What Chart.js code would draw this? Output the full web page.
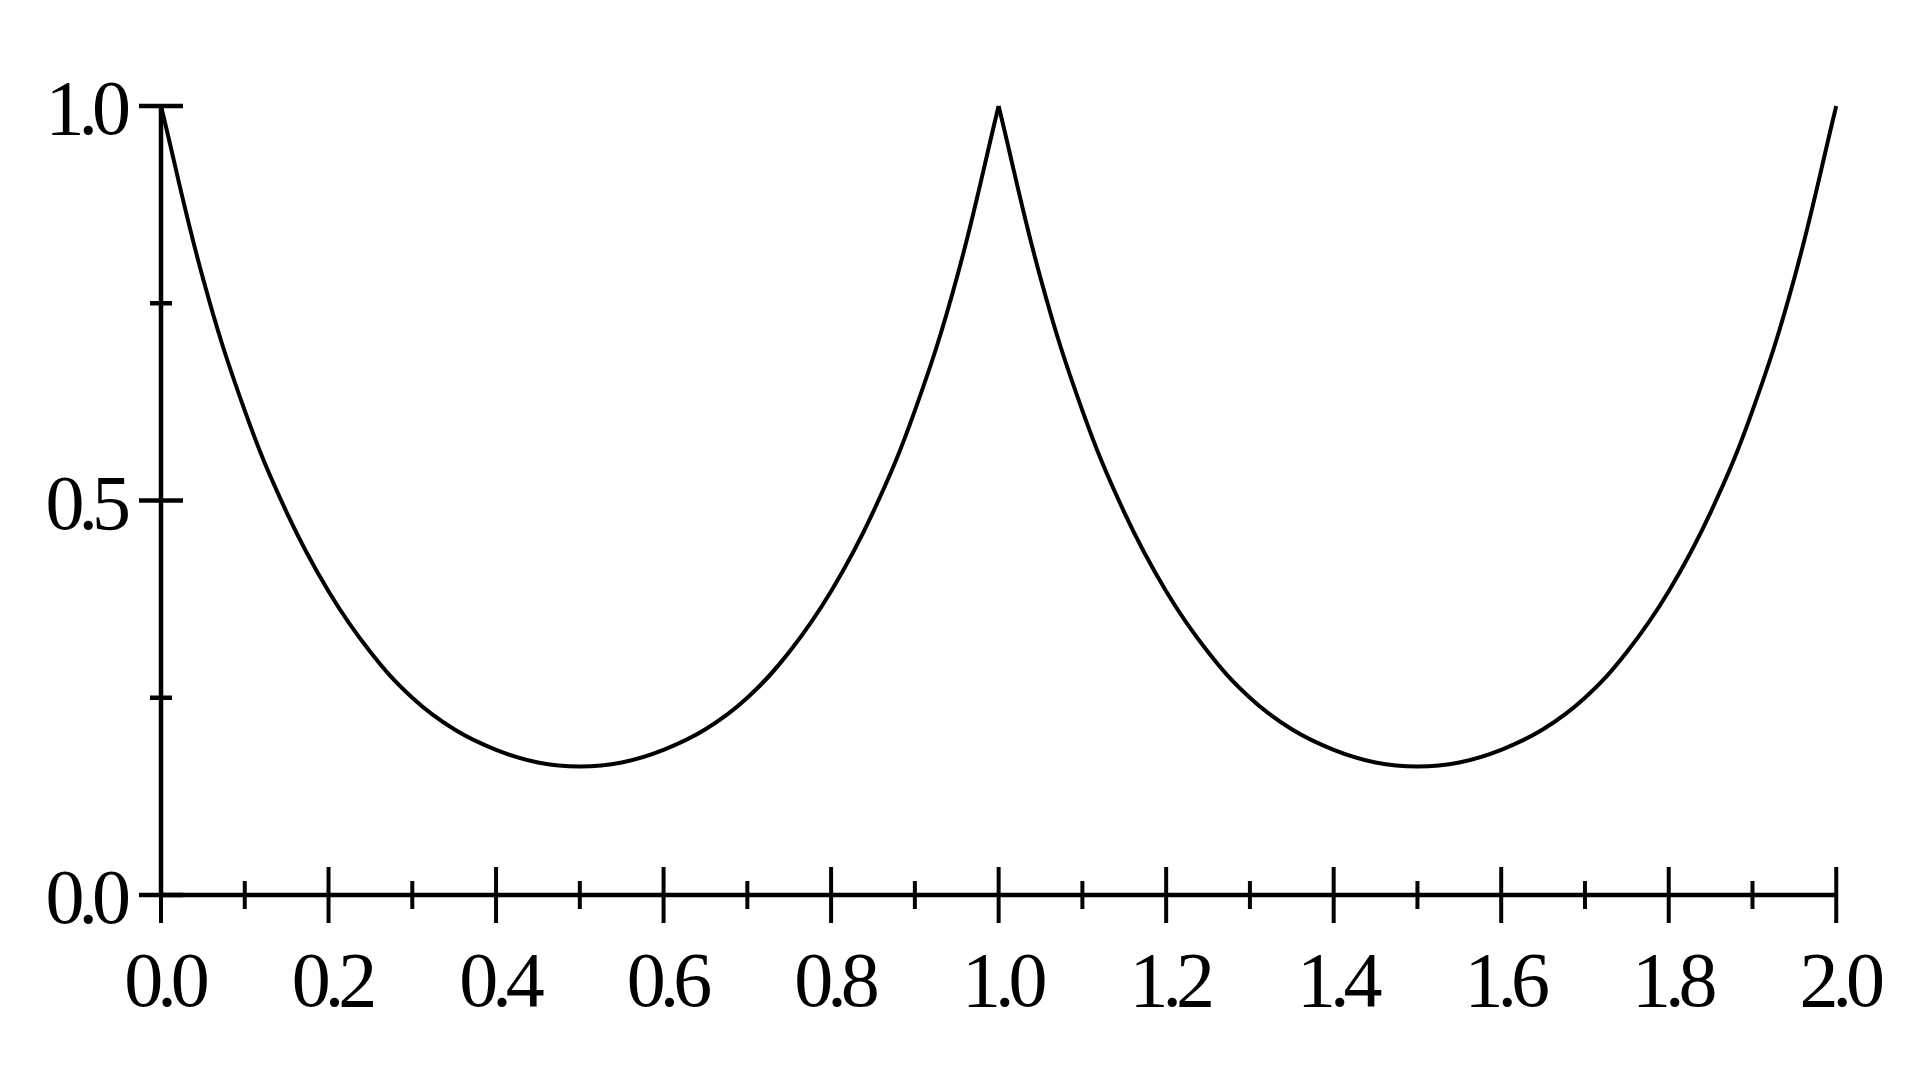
<!DOCTYPE html>
<html>
<head>
<meta charset="utf-8">
<script src="https://cdn.jsdelivr.net/npm/chart.js@4/dist/chart.umd.min.js"></script>
<style>
  html, body { margin: 0; padding: 0; background: #ffffff; }
  #wrap { width: 1920px; height: 1080px; }
</style>
</head>
<body>
<div id="wrap"><canvas id="c" width="1920" height="1080"></canvas></div>
<script>
// ---- data ----
const arch1X = [0.00, 0.05, 0.10, 0.15, 0.20, 0.25, 0.30, 0.35, 0.40, 0.45, 0.50,
                0.55, 0.60, 0.65, 0.70, 0.75, 0.80, 0.85, 0.90, 0.95, 1.00];
const arch1Y = [1.000, 0.782, 0.614, 0.485, 0.385, 0.308, 0.250, 0.210, 0.184, 0.168, 0.163,
                0.168, 0.184, 0.210, 0.250, 0.308, 0.385, 0.485, 0.614, 0.782, 1.000];
const arch2X = [1.00, 1.05, 1.10, 1.15, 1.20, 1.25, 1.30, 1.35, 1.40, 1.45, 1.50,
                1.55, 1.60, 1.65, 1.70, 1.75, 1.80, 1.85, 1.90, 1.95, 2.00];
const arch2Y = [1.000, 0.782, 0.614, 0.485, 0.385, 0.308, 0.250, 0.210, 0.184, 0.168, 0.163,
                0.168, 0.184, 0.210, 0.250, 0.308, 0.385, 0.485, 0.614, 0.782, 1.000];

const xMajorTicks = [0.0, 0.2, 0.4, 0.6, 0.8, 1.0, 1.2, 1.4, 1.6, 1.8, 2.0];
const xMajorLabels = ['0.0', '0.2', '0.4', '0.6', '0.8', '1.0', '1.2', '1.4', '1.6', '1.8', '2.0'];
const xMinorTicks = [0.1, 0.3, 0.5, 0.7, 0.9, 1.1, 1.3, 1.5, 1.7, 1.9];
const yMajorTicks = [0.0, 0.5, 1.0];
const yMajorLabels = ['0.0', '0.5', '1.0'];
const yMinorTicks = [0.25, 0.75];

// ---- helpers ----
const toPoints = (xs, ys) => xs.map((x, i) => ({ x: x, y: ys[i] }));

const SPACING = '-6px';
const letterSpacingPlugin = {
  id: 'letterSpacing',
  beforeUpdate(chart) { chart.ctx.letterSpacing = SPACING; },
  beforeLayout(chart) { chart.ctx.letterSpacing = SPACING; },
  beforeDraw(chart) { chart.ctx.letterSpacing = SPACING; }
};

const axesPlugin = {
  id: 'axesPlugin',
  afterDraw(chart) {
    const ctx = chart.ctx;
    const xs = chart.scales.x, ys = chart.scales.y;
    const x0 = xs.getPixelForValue(xs.min), x2 = xs.getPixelForValue(xs.max);
    const y0 = ys.getPixelForValue(ys.min), y1 = ys.getPixelForValue(ys.max);
    ctx.save();
    ctx.strokeStyle = '#000';
    ctx.lineCap = 'butt';
    const seg = (ax, ay, bx, by, w) => {
      ctx.lineWidth = w; ctx.beginPath(); ctx.moveTo(ax, ay); ctx.lineTo(bx, by); ctx.stroke();
    };
    seg(x0, y0, x2, y0, 4.5);
    seg(x0, y1, x0, y0, 4.5);
    xMajorTicks.forEach(v => { const p = xs.getPixelForValue(v); seg(p, y0 - 28, p, y0 + 28, 4); });
    xMinorTicks.forEach(v => { const p = xs.getPixelForValue(v); seg(p, y0 - 14, p, y0 + 14, 4); });
    yMajorTicks.forEach(v => { const p = ys.getPixelForValue(v); seg(x0 - 22, p, x0 + 22, p, 4.5); });
    yMinorTicks.forEach(v => { const p = ys.getPixelForValue(v); seg(x0 - 11, p, x0 + 11, p, 4.5); });
    ctx.restore();
  }
};

const lineStyle = {
  borderColor: '#000000',
  borderWidth: 4,
  pointRadius: 0,
  fill: false,
  tension: 0.4,
  clip: 20
};

new Chart(document.getElementById('c'), {
  type: 'line',
  data: {
    datasets: [
      Object.assign({ label: 'arch 1', data: toPoints(arch1X, arch1Y) }, lineStyle),
      Object.assign({ label: 'arch 2', data: toPoints(arch2X, arch2Y) }, lineStyle)
    ]
  },
  options: {
    responsive: false,
    animation: false,
    devicePixelRatio: 1,
    layout: { padding: { top: 106, right: 80, bottom: 65, left: 0 } },
    plugins: { legend: { display: false }, tooltip: { enabled: false } },
    scales: {
      x: {
        type: 'linear',
        min: 0, max: 2,
        afterBuildTicks: s => { s.ticks = xMajorTicks.map(v => ({ value: v })); },
        afterFit: s => { s.height = 120; },
        grid: { display: false, drawTicks: false },
        border: { display: false },
        ticks: {
          autoSkip: false, maxRotation: 0, minRotation: 0,
          padding: 44, labelOffset: 3,
          color: '#000',
          font: { family: '"Liberation Serif", "Times New Roman", serif', size: 78 },
          callback: (v, i) => xMajorLabels[i]
        }
      },
      y: {
        type: 'linear',
        min: 0, max: 1,
        afterBuildTicks: s => { s.ticks = yMajorTicks.map(v => ({ value: v })); },
        afterFit: s => { s.width = 161; },
        grid: { display: false, drawTicks: false },
        border: { display: false },
        ticks: {
          padding: 36, labelOffset: 8,
          color: '#000',
          font: { family: '"Liberation Serif", "Times New Roman", serif', size: 78 },
          callback: (v, i) => yMajorLabels[i]
        }
      }
    }
  },
  plugins: [letterSpacingPlugin, axesPlugin]
});
</script>
</body>
</html>
